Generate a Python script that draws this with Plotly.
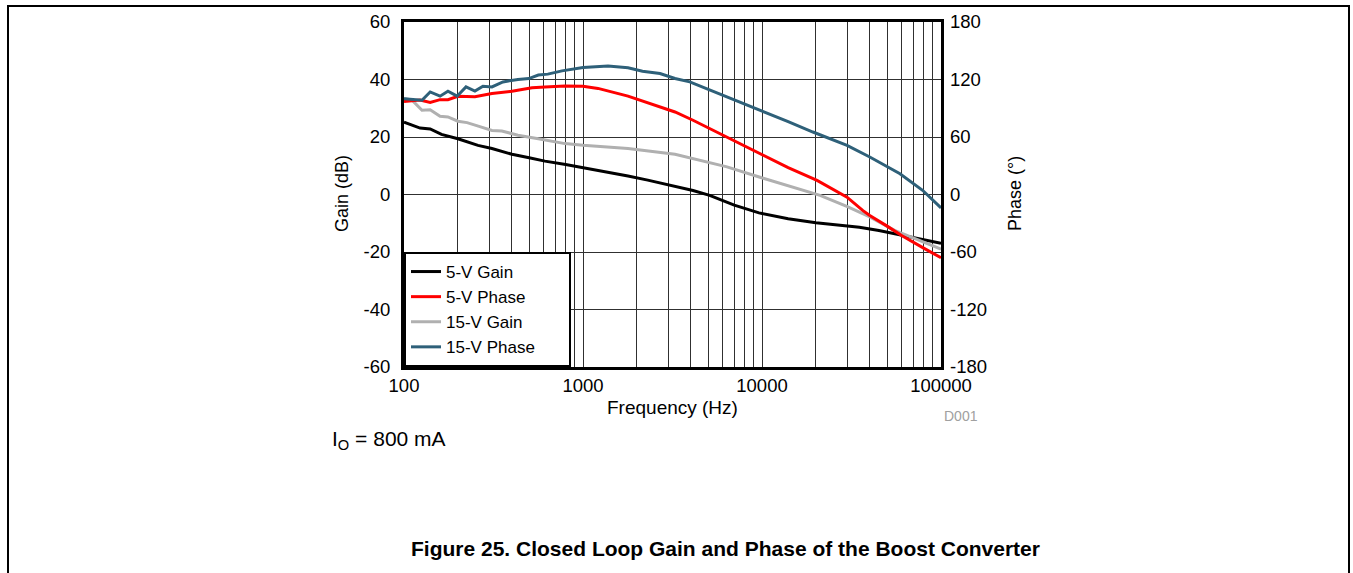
import plotly.graph_objects as go

# ---------------- data ----------------
freq_5v_gain = [100, 111, 123, 140, 162, 200, 259, 310, 401, 500, 613, 800, 1000, 1400,
                1784, 2300, 3266, 4117, 5100, 7000, 9620, 14000, 20000, 27000, 35000,
                45000, 55000, 70000, 100000]
gain_5v = [25.2, 24.0, 23.1, 22.8, 20.9, 19.4, 17.1, 16.0, 14.0, 12.8, 11.6, 10.4, 9.3, 7.8,
           6.4, 5.0, 2.9, 1.4, -0.3, -3.7, -6.4, -8.4, -9.8, -10.6, -11.4,
           -12.5, -13.6, -15.0, -17.0]

freq_5v_phase = [100, 111, 123, 140, 159, 176, 200, 249, 310, 401, 519, 613, 793, 1000, 1213,
                 1784, 2307, 2692, 3266, 4117, 6884, 9747, 14000, 20300, 29850, 36650, 40000,
                 50000, 60560, 80000, 100000]
phase_5v = [97, 98, 98.5, 96, 99, 99, 102.5, 102, 105.4, 107.8, 111.3, 112.2, 113.3, 113, 110.7,
            102.7, 95.6, 91.4, 86.1, 77.5, 56.5, 42.5, 28, 14.7, -2.8, -16.8, -22,
            -33, -43, -56, -66]

freq_15v_gain = [100, 111, 126, 140, 159, 176, 200, 225, 260, 310, 352, 433, 563, 793, 1000,
                 1784, 3266, 4117, 6375, 9750, 14900, 21100, 30000, 40000, 55000, 75000, 100000]
gain_15v = [33.4, 32.8, 29.3, 29.5, 27.2, 27.0, 25.5, 25.0, 23.8, 22.3, 22.1, 20.6, 19.4, 17.7, 17.1,
            16.0, 14.0, 12.5, 9.6, 6.0, 2.6, -0.3, -4.2, -7.8, -12.5, -16.0, -19.0]

freq_15v_phase = [100, 111, 126, 140, 159, 176, 198, 222, 249, 276, 310, 357, 433, 498, 563, 636,
                  763, 1000, 1124, 1380, 1784, 2150, 2692, 3266, 3950, 6000, 9750, 14000, 19250,
                  29850, 40000, 59000, 78900, 100000]
phase_15v = [100, 99, 98.4, 107, 102.6, 107.8, 102.6, 112.3, 108, 113, 112.3, 117.5, 120, 121,
             124.6, 125.6, 129, 132.6, 133.2, 134, 132.3, 128.7, 126.3, 121, 117.5, 104, 88, 76,
             65.2, 51.3, 39.1, 21.7, 4.4, -14]

x_tickvals = [100, 1000, 10000, 100000]
x_ticktext = ["100", "1000", "10000", "100000"]
gain_ticks = [-60, -40, -20, 0, 20, 40, 60]
gain_ticktext = ["-60", "-40", "-20", "0", "20", "40", "60"]
phase_ticks = [-180, -120, -60, 0, 60, 120, 180]
phase_ticktext = ["-180", "-120", "-60", "0", "60", "120", "180"]

FONT = "Liberation Sans, Arial, sans-serif"
PAD = "\u00a0" * 6

fig = go.Figure()
fig.add_trace(go.Scatter(x=freq_5v_gain, y=gain_5v, name="5-V Gain", mode="lines",
                         line=dict(color="#000000", width=3), yaxis="y"))
fig.add_trace(go.Scatter(x=freq_5v_phase, y=phase_5v, name="5-V Phase", mode="lines",
                         line=dict(color="#ff0000", width=3), yaxis="y2"))
fig.add_trace(go.Scatter(x=freq_15v_gain, y=gain_15v, name="15-V Gain", mode="lines",
                         line=dict(color="#b0b0b0", width=3), yaxis="y"))
fig.add_trace(go.Scatter(x=freq_15v_phase, y=phase_15v, name="15-V Phase" + PAD, mode="lines",
                         line=dict(color="#2e6079", width=3), yaxis="y2"))

L, R, T, B = 404, 941, 22, 367
W, H = 1353, 573
pw, ph = R - L, B - T


def px(x):
    return (x - L) / pw


def py(y):
    return (B - y) / ph


fig.update_layout(
    width=W, height=H,
    margin=dict(l=L, r=W - R, t=T, b=H - B, pad=0),
    paper_bgcolor="white", plot_bgcolor="white",
    font=dict(family=FONT, size=18, color="#000000"),
    showlegend=True,
    legend=dict(x=0, y=0, xanchor="left", yanchor="bottom",
                bgcolor="white", bordercolor="#000000", borderwidth=2,
                font=dict(size=17), traceorder="normal", itemwidth=30),
    xaxis=dict(type="log", range=[2, 5], tickvals=x_tickvals, ticktext=x_ticktext,
               showgrid=True, gridcolor="#303030", gridwidth=1,
               minor=dict(showgrid=True, dtick="D1", gridcolor="#303030", gridwidth=1),
               showline=True, mirror=True, linecolor="#000000", linewidth=3,
               ticks="", tickfont=dict(size=18.5), zeroline=False),
    yaxis=dict(range=[-60, 60], tickvals=gain_ticks, ticktext=gain_ticktext,
               showgrid=True, gridcolor="#303030",
               gridwidth=1, showline=True, mirror=True, linecolor="#000000", linewidth=3,
               ticks="", tickfont=dict(size=18.5), zeroline=False, ticklabelstandoff=7),
    yaxis2=dict(range=[-180, 180], tickvals=phase_ticks, ticktext=phase_ticktext,
                overlaying="y", side="right",
                showgrid=False, showline=False, ticks="", tickfont=dict(size=18.5),
                zeroline=False, ticklabelstandoff=8),
)

ann = []
ann.append(dict(text="Gain (dB)", x=px(342), y=py(194), xref="paper", yref="paper",
                xanchor="center", yanchor="middle",
                textangle=-90, showarrow=False, font=dict(size=18)))
ann.append(dict(text="Phase (°)", x=px(1015), y=py(194), xref="paper", yref="paper",
                xanchor="center", yanchor="middle",
                textangle=-90, showarrow=False, font=dict(size=18)))
ann.append(dict(text="Frequency (Hz)", x=px(672), y=py(408), xref="paper", yref="paper",
                xanchor="center", yanchor="middle", showarrow=False, font=dict(size=19)))
ann.append(dict(text="D001", x=px(961), y=py(416), xref="paper", yref="paper",
                xanchor="center", yanchor="middle",
                showarrow=False, font=dict(size=14, color="#a0a0a0")))
ann.append(dict(text="I<sub>O</sub> = 800 mA", x=px(330), y=py(440), xref="paper", yref="paper",
                xanchor="left", yanchor="middle", showarrow=False, font=dict(size=21)))
ann.append(dict(text="<b>Figure 25. Closed Loop Gain and Phase of the Boost Converter</b>",
                x=px(725), y=py(548), xref="paper", yref="paper",
                xanchor="center", yanchor="middle",
                showarrow=False, font=dict(size=21)))
fig.update_layout(annotations=ann)

fig.add_shape(type="rect", xref="paper", yref="paper",
              x0=px(8), x1=px(1349), y0=py(600), y1=py(6),
              line=dict(color="#000000", width=2), fillcolor="rgba(0,0,0,0)", layer="below")

fig.write_html("out.html", config={"displayModeBar": False},
               post_script="document.body.style.margin='0px';")
